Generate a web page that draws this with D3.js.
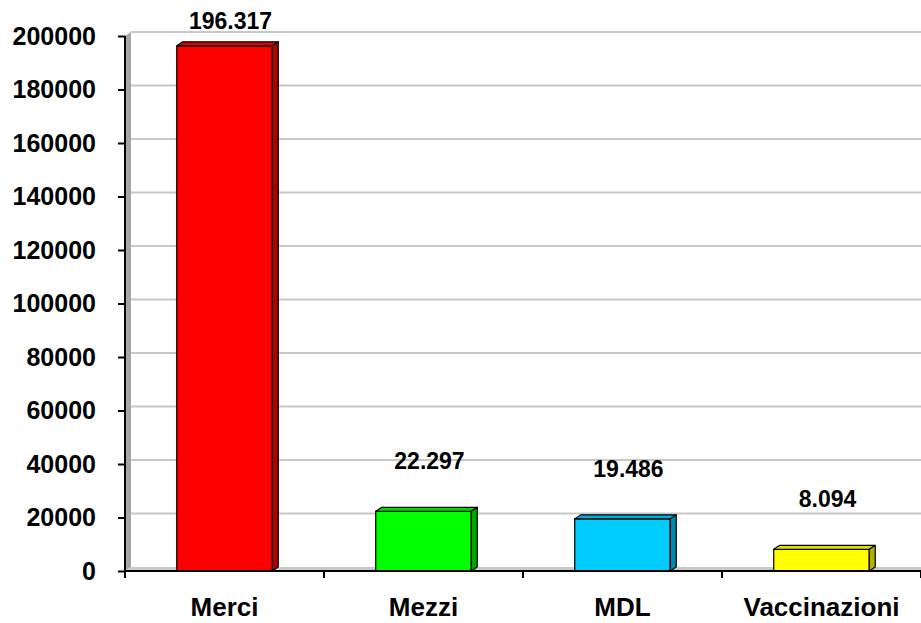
<!DOCTYPE html>
<html>
  <head>
    <meta charset="utf-8">
    <title>Merci Mezzi MDL Vaccinazioni</title>
    <script src="https://d3js.org/d3.v7.min.js"></script>
    <style>
      body { margin: 0; background: #fff; }
      text { font-family: "Liberation Sans", Arial, sans-serif; font-weight: bold; fill: #000; }
    </style>
  </head>
  <body>
    <script>
      var categories = ["Merci", "Mezzi", "MDL", "Vaccinazioni"];
      var values = [196317, 22297, 19486, 8094];
      var yTicks = [0, 20000, 40000, 60000, 80000, 100000, 120000, 140000, 160000, 180000, 200000];
      var barColors = ["#ff0000", "#00ff00", "#00ccff", "#ffff00"];
      var sideColors = ["#b00000", "#00a800", "#0088aa", "#b0b000"];
      var topColors = ["#e00000", "#00d800", "#00aee0", "#e0e000"];

      var width = 921, height = 623;
      var plotLeft = 125, plotRight = 921, plotTop = 36, plotBottom = 571;
      var dx = 6, dy = -4;

      var itFormat = d3.formatLocale({ decimal: ",", thousands: ".", grouping: [3], currency: ["", ""] }).format(",d");

      var svg = d3.select("body").append("svg").attr("width", width).attr("height", height);

      var xScale = d3.scaleBand().domain(categories).range([plotLeft, plotRight]).padding(0);
      var yScale = d3.scaleLinear().domain([0, 200000]).range([plotBottom, plotTop]);

      // back wall left side and floor
      svg.append("polygon")
        .attr("points", [[plotLeft, plotBottom], [plotLeft, plotTop], [plotLeft + dx, plotTop + dy], [plotLeft + dx, plotBottom + dy]].join(" "))
        .attr("fill", "#a6a6a6");
      svg.append("polygon")
        .attr("points", [[plotLeft, plotBottom], [plotLeft + dx, plotBottom + dy], [plotRight, plotBottom + dy], [plotRight, plotBottom]].join(" "))
        .attr("fill", "#c8c8c8");

      // gridlines on back wall
      svg.selectAll("line.grid")
        .data(yTicks.slice(1))
        .enter()
        .append("line")
        .attr("class", "grid")
        .attr("x1", plotLeft + dx)
        .attr("x2", plotRight)
        .attr("y1", function(d) { return yScale(d) + dy; })
        .attr("y2", function(d) { return yScale(d) + dy; })
        .attr("stroke", "#c8c8c8")
        .attr("stroke-width", 2);

      // bars
      var bw = xScale.bandwidth() * 0.48;
      var bars = svg.selectAll("g.bar")
        .data(values)
        .enter()
        .append("g")
        .attr("class", "bar");

      function bx(d, i) { return xScale(categories[i]) + (xScale.bandwidth() - bw) / 2; }

      bars.append("rect")
        .attr("x", bx)
        .attr("y", function(d) { return yScale(d); })
        .attr("width", bw)
        .attr("height", function(d) { return plotBottom - yScale(d); })
        .attr("fill", function(d, i) { return barColors[i]; })
        .attr("stroke", "#000")
        .attr("stroke-width", 1.2);

      bars.append("polygon")
        .attr("points", function(d, i) {
          var x0 = bx(d, i), y0 = yScale(d);
          return [[x0, y0], [x0 + dx, y0 + dy], [x0 + bw + dx, y0 + dy], [x0 + bw, y0]].join(" ");
        })
        .attr("fill", function(d, i) { return topColors[i]; })
        .attr("stroke", "#000")
        .attr("stroke-width", 1.2)
        .attr("stroke-linejoin", "round");

      bars.append("polygon")
        .attr("points", function(d, i) {
          var x1 = bx(d, i) + bw, y0 = yScale(d);
          return [[x1, y0], [x1 + dx, y0 + dy], [x1 + dx, plotBottom + dy], [x1, plotBottom]].join(" ");
        })
        .attr("fill", function(d, i) { return sideColors[i]; })
        .attr("stroke", "#000")
        .attr("stroke-width", 1.2)
        .attr("stroke-linejoin", "round");

      // value labels
      bars.append("text")
        .attr("x", function(d, i) { return bx(d, i) + bw / 2 + dx; })
        .attr("y", function(d) { return Math.max(21, yScale(d) - 50); })
        .attr("dy", "0.35em")
        .attr("text-anchor", "middle")
        .style("font-size", "23px")
        .text(function(d) { return itFormat(d); });

      // y axis
      var axisY = d3.axisLeft(yScale).tickValues(yTicks).tickSize(7).tickPadding(22).tickFormat(d3.format("d"));
      var gy = svg.append("g").attr("transform", "translate(" + plotLeft + ",0)").call(axisY);
      gy.select(".domain").attr("stroke", "#000").attr("stroke-width", 2).attr("d", "M0," + plotTop + "V" + plotBottom);
      gy.selectAll(".tick line").attr("stroke", "#000").attr("stroke-width", 2);
      gy.selectAll(".tick text").style("font-size", "25px");

      // x axis
      var axisX = d3.axisBottom(xScale).tickSize(0).tickPadding(27);
      var gx = svg.append("g").attr("transform", "translate(0," + plotBottom + ")").call(axisX);
      gx.select(".domain").attr("stroke", "#000").attr("stroke-width", 2).attr("d", "M" + plotLeft + ",0H" + plotRight);
      gx.selectAll(".tick text").style("font-size", "26px");
      gx.selectAll("line.sep")
        .data(categories.concat([null]))
        .enter()
        .append("line")
        .attr("class", "sep")
        .attr("x1", function(d, i) { return plotLeft + i * xScale.step(); })
        .attr("x2", function(d, i) { return plotLeft + i * xScale.step(); })
        .attr("y1", 0)
        .attr("y2", 7)
        .attr("stroke", "#000")
        .attr("stroke-width", 2);
    </script>
  </body>
</html>
